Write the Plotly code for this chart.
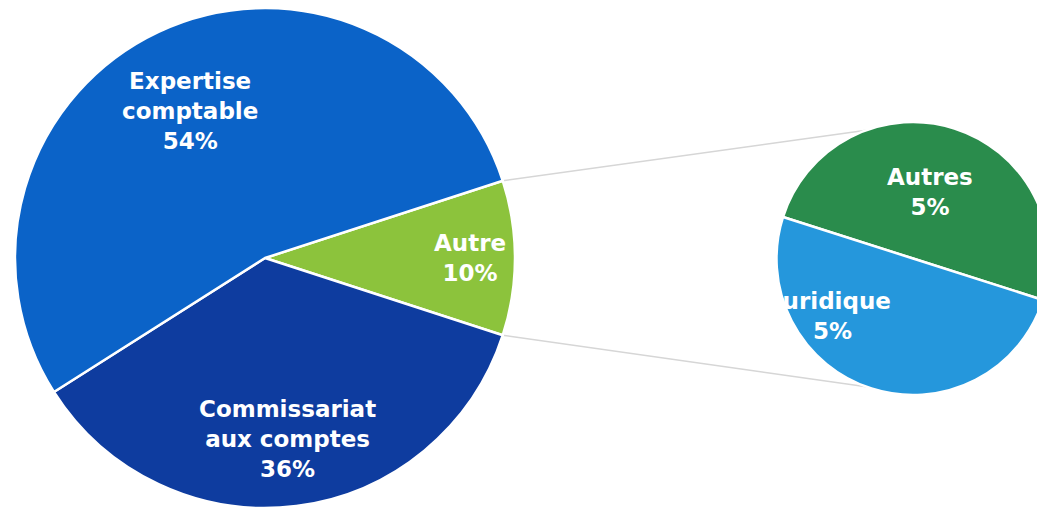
import math
import plotly.graph_objects as go

# ---- data ----
main_labels = ["Autre", "Commissariat<br>aux comptes", "Expertise<br>comptable"]
main_values = [10, 36, 54]
sub_labels = ["Autres", "Juridique"]
sub_values = [5, 5]

# ---- style ----
main_colors = ["#8cc33c", "#0e3c9f", "#0b63c8"]
sub_colors = ["#2a8c4c", "#2597dc"]
W, H = 1045, 508
OFF = 8  # default page body margin
MAIN_C, MAIN_R = (265 - OFF, 258 - OFF), 250
SUB_C, SUB_R = (913 - OFF, 258.5 - OFF), 136.5
SUB_START = 162.3  # boundary angle (deg, math) where the small pie begins
main_label_pos = [(0.82, 0), (0.73, 0), (0.66, 2)]
sub_label_pos = [(0.50, 3), (0.73, -37)]
FONT = dict(family="DejaVu Sans, sans-serif", size=23, color="white", weight="bold")

total = sum(main_values)
main_start = 180.0 * main_values[0] / total  # "Autre" slice centred on the right
main_rot = 90 - main_start
sub_rot = 90 - SUB_START


def dom(c, r):
    return dict(x=[max(0, (c[0] - r) / W), min(1, (c[0] + r) / W)],
                y=[max(0, (H - c[1] - r) / H), min(1, (H - c[1] + r) / H)])


def pt(c, r, ang):
    a = math.radians(ang)
    return (c[0] + r * math.cos(a)) / W, 1 - (c[1] - r * math.sin(a)) / H


fig = go.Figure()
fig.add_trace(go.Pie(labels=main_labels, values=main_values, sort=False,
                     direction="clockwise", rotation=main_rot,
                     marker=dict(colors=main_colors, line=dict(color="white", width=2.5)),
                     textinfo="none", hoverinfo="label+percent", showlegend=False,
                     domain=dom(MAIN_C, MAIN_R)))
fig.add_trace(go.Pie(labels=sub_labels, values=sub_values, sort=False,
                     direction="clockwise", rotation=sub_rot,
                     marker=dict(colors=sub_colors, line=dict(color="white", width=2.5)),
                     textinfo="none", hoverinfo="label", showlegend=False,
                     domain=dom(SUB_C, SUB_R)))

annotations = []
ang = main_start
for lab, v, (f, off) in zip(main_labels, main_values, main_label_pos):
    mid = ang - 180.0 * v / total
    ang -= 360.0 * v / total
    x, y = pt(MAIN_C, f * MAIN_R, mid + off)
    annotations.append(dict(x=x, y=y, xref="paper", yref="paper", showarrow=False,
                            xanchor="center", yanchor="middle",
                            text=f"{lab}<br>{round(100 * v / total)}%", font=FONT))
sub_total = sum(sub_values)
ang = SUB_START
for lab, v, (f, off) in zip(sub_labels, sub_values, sub_label_pos):
    mid = ang - 180.0 * v / sub_total
    ang -= 360.0 * v / sub_total
    x, y = pt(SUB_C, f * SUB_R, mid + off)
    annotations.append(dict(x=x, y=y, xref="paper", yref="paper", showarrow=False,
                            xanchor="center", yanchor="middle",
                            text=f"{lab}<br>{round(100 * v / total)}%", font=FONT))

shapes = []
for s in (1, -1):
    x0, y0 = pt(MAIN_C, MAIN_R, s * main_start)
    x1, y1 = pt(SUB_C, SUB_R, s * 110)
    shapes.append(dict(type="line", xref="paper", yref="paper", x0=x0, y0=y0, x1=x1, y1=y1,
                       line=dict(color="#d6d6d6", width=1.5), layer="below"))

fig.update_layout(width=W, height=H, margin=dict(l=0, r=0, t=0, b=0),
                  paper_bgcolor="white", plot_bgcolor="white",
                  annotations=annotations, shapes=shapes)
fig.write_html("out.html")
